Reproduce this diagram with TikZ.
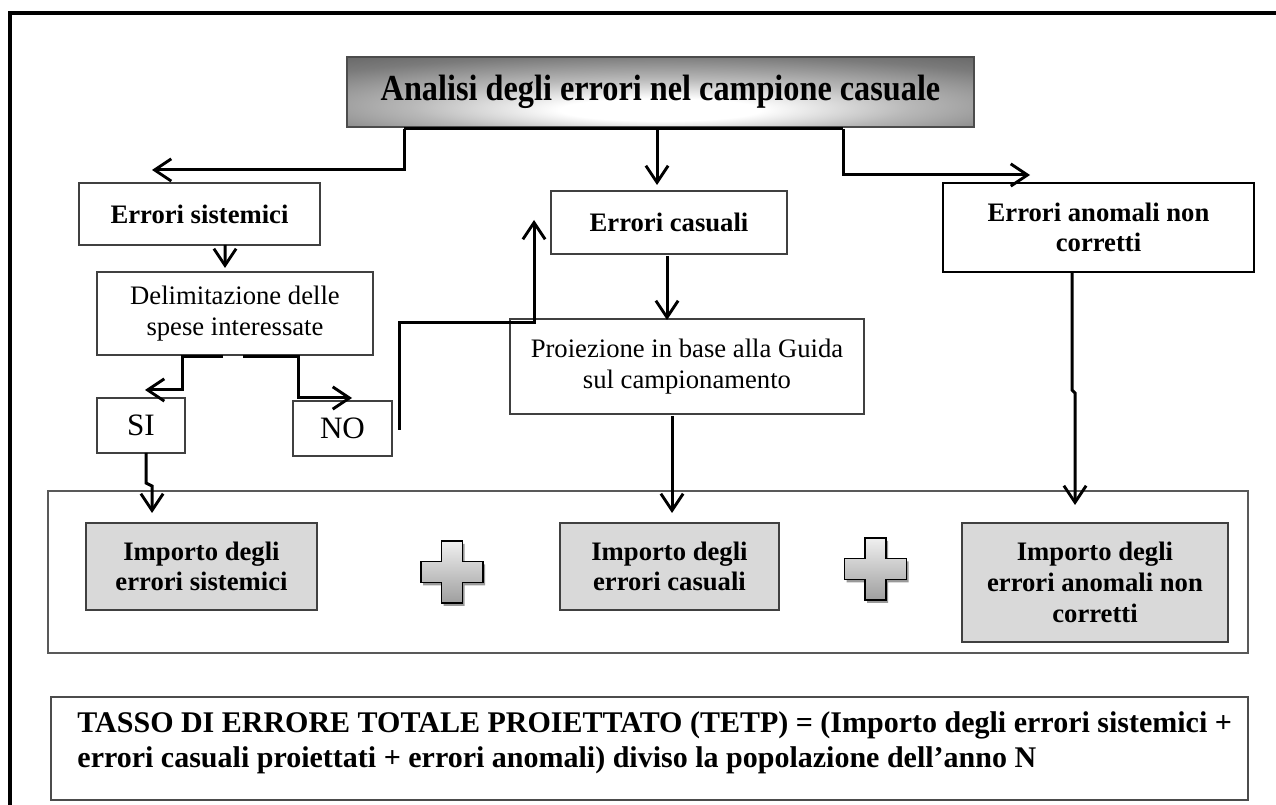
\documentclass[tikz,border=0pt]{standalone}
\usepackage{fontspec}
\setmainfont{Liberation Serif}
\usetikzlibrary{arrows.meta,calc,shadings}
\pgfdeclareradialshading{titleshade}{\pgfpoint{0bp}{-14bp}}{color(0bp)=(white); color(8bp)=(white); color(20bp)=(black!28); color(34bp)=(black!52); color(46bp)=(black!64); color(80bp)=(black!66)}
\tikzset{
  box/.style 2 args={draw=black!75, line width=0.5pt, fill=white, minimum width=#1*0.45pt, minimum height=#2*0.45pt, inner sep=0pt, outer sep=0pt, align=center},
  bt/.style={font=\fontsize{12}{13.8}\selectfont\bfseries},
  rt/.style={font=\fontsize{12}{13.8}\selectfont},
  bigt/.style={font=\fontsize{14}{16}\selectfont},
  grayfill/.style={fill=black!15, draw=black!75},
  conn/.style={line width=1.35pt, draw=black, line join=miter},
  arr/.style={conn, -{Straight Barb[length=7.5pt,width=10pt,line width=1.3pt]}},
  crosssign/.pic={
    \fill[black!40] (-8.5,-28) -- (12.5,-28) -- (12.5,-7.5) -- (33,-7.5) -- (33,13.5) -- (12.5,13.5) -- (12.5,34) -- (-8.5,34) -- (-8.5,13.5) -- (-29,13.5) -- (-29,-7.5) -- (-8.5,-7.5) -- cycle;
    \draw[line width=0.8pt, top color=black!6, bottom color=black!38] (-10.5,-31) -- (10.5,-31) -- (10.5,-10.5) -- (31,-10.5) -- (31,10.5) -- (10.5,10.5) -- (10.5,31) -- (-10.5,31) -- (-10.5,10.5) -- (-31,10.5) -- (-31,-10.5) -- (-10.5,-10.5) -- cycle;
  }
}
\begin{document}
\begin{tikzpicture}[x=0.45pt,y=-0.45pt]
\useasboundingbox (0,0) rectangle (1276,805);
% outer frame
\draw[line width=1.4pt] (10,805) -- (10,13) -- (1276,13);

% title
\node[box={627}{70}, draw=black!70, line width=0.6pt, shading=titleshade] (title) at (660.5,92)
  {\fontsize{16.5}{19}\selectfont\bfseries\scalebox{0.88}[1]{Analisi degli errori nel campione casuale}};

% second row
\node[box={241}{62}, bt] (es) at (199.5,214) {Errori sistemici};
\node[box={236}{63}, bt] (ec) at (669,222.5) {Errori casuali};
\node[box={311}{89}, bt, draw=black, line width=0.9pt] (ea) at (1098.5,227.5) {Errori anomali non\\corretti};

\node[box={276}{83}, rt] (del) at (235,313.5) {Delimitazione delle\\spese interessate};
\node[box={354}{95}, rt] (pr) at (687,366.5) {Proiezione in base alla Guida\\sul campionamento};

\node[box={88}{55}, bigt] (si) at (141,425.5) {SI};
\node[box={99}{55}, bigt] (no) at (342.5,428.5) {NO};

% big box
\node[box={1200}{162}, draw=black!65, line width=0.6pt, fill=none] (big) at (648,572) {};
\node[box={231}{87}, bt, grayfill] (is) at (201.5,566.5) {Importo degli\\errori sistemici};
\node[box={219}{87}, bt, grayfill] (ic) at (669.5,566.5) {Importo degli\\errori casuali};
\node[box={266}{119}, bt, grayfill] (ia) at (1095,582.5) {Importo degli\\errori anomali non\\corretti};

\pic at (452,572) {crosssign};
\pic at (875.5,569) {crosssign};

% formula box
\node[box={1197}{103}, draw=black!70] (fb) at (649.5,748.5) {};
\node[anchor=north west, inner sep=0pt, align=left, font=\fontsize{13.5}{15.8}\selectfont\bfseries] (ft) at (77,711)
  {TASSO DI ERRORE TOTALE PROIETTATO (TETP) = (Importo degli errori sistemici +\\errori casuali proiettati + errori anomali) diviso la popolazione dell’anno N};

% arrow end coordinates
\coordinate (esIn) at (152,170);
\coordinate (ecIn) at (657,185);
\coordinate (eaIn) at (1030,175);
\coordinate (delIn) at (225,268);
\coordinate (siIn) at (145,390);
\coordinate (noIn) at (352,398);
\coordinate (ecUp) at (534,220);
\coordinate (prIn) at (667,320);
\coordinate (icIn) at (672,513);
\coordinate (iaIn) at (1075,505);
\coordinate (isIn) at (152,513);

% connectors
\draw[conn] ($(title.south)+(-256.5,2)$) -- ($(title.south)+(182.5,2)$);
\draw[arr] ($(title.south)+(-256.5,2)$) |- (esIn);
\draw[arr] ($(title.south)+(-3.5,2)$) -- (ecIn);
\draw[arr] ($(title.south)+(182.5,2)$) |- (eaIn);

\draw[arr] ($(es.south)+(25.5,0)$) -- (delIn);
\draw[arr] ($(del.south)+(-12,2)$) -| ($(siIn)+(37,0)$) -- (siIn);
\draw[arr] ($(del.south)+(8,2)$) -| ($(noIn)+(-54,0)$) -- (noIn);
\draw[arr] ($(no.east)+(7,1.5)$) |- ($(ecUp)+(0,103)$) -- (ecUp);

\draw[arr] ($(ec.south)+(-2,2)$) -- (prIn);
\draw[arr] ($(pr.south)+(-15,2)$) -- (icIn);
\draw[arr] ($(ea.south)+(-26.5,0)$) -- ++(0,118) -- ++(3,3) -- (iaIn);
\draw[arr] ($(si.south)+(5,0)$) -- ++(0,30) -- ++(6,3) -- (isIn);
\end{tikzpicture}
\end{document}
